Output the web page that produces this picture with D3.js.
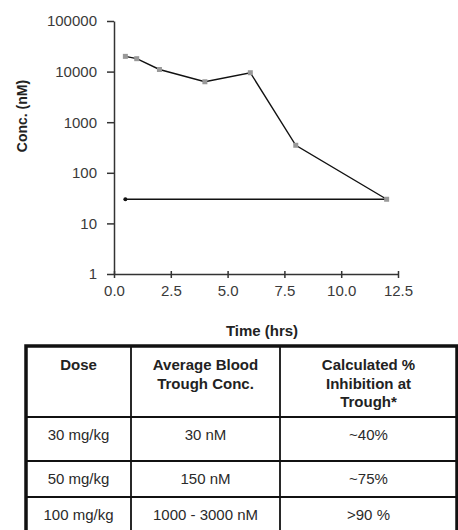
<!DOCTYPE html>
<html>
<head>
<meta charset="utf-8">
<script src="https://cdn.jsdelivr.net/npm/d3@7"></script>
<style>
  html, body { margin: 0; padding: 0; background: #fff; }
  svg { display: block; font-family: "Liberation Sans", Arial, sans-serif; }
</style>
</head>
<body>
<div id="chart"></div>
<script>
// PK curve (grey squares) and trough reference line
const times = [0.5, 1, 2, 4, 6, 8, 12];
const conc = [20000, 18000, 11000, 6300, 9500, 350, 30];
const troughTimes = [0.5, 12];
const troughConc = [30, 30];

const xTicks = [0, 2.5, 5, 7.5, 10, 12.5];
const yTicks = [1, 10, 100, 1000, 10000, 100000];

// table contents
const headers = [["Dose"], ["Average Blood", "Trough Conc."], ["Calculated %", "Inhibition at", "Trough*"]];
const doses = ["30 mg/kg", "50 mg/kg", "100 mg/kg"];
const bloodTrough = ["30 nM", "150 nM", "1000 - 3000 nM"];
const inhibition = ["~40%", "~75%", ">90 %"];

const width = 458;
const height = 530;

const svg = d3.select("#chart").append("svg")
  .attr("width", width)
  .attr("height", height);

const x = d3.scaleLinear().domain([0, 12.5]).range([114, 398]);
const y = d3.scaleLog().domain([1, 100000]).range([274, 21]);

const axisColor = "#333";
const labelColor = "#3a3a3a";

// y axis
const yAxis = svg.append("g")
  .attr("transform", `translate(${x(0)},0)`)
  .call(d3.axisLeft(y).tickValues(yTicks).tickFormat(d3.format("d")).tickSize(7).tickPadding(10).tickSizeOuter(0));
yAxis.select(".domain").attr("stroke", axisColor).attr("stroke-width", 1.5);
yAxis.selectAll(".tick line").attr("stroke", axisColor).attr("stroke-width", 1.5);
yAxis.selectAll(".tick text").attr("fill", labelColor).attr("font-size", 15).attr("font-family", null);

// x axis
const xAxis = svg.append("g")
  .attr("transform", `translate(0,${y(1)})`)
  .call(d3.axisBottom(x).tickValues(xTicks).tickFormat(d3.format(".1f")).tickSize(4).tickPadding(7).tickSizeOuter(0));
xAxis.select(".domain").attr("stroke", axisColor).attr("stroke-width", 1.5);
xAxis.selectAll(".tick line").attr("stroke", axisColor).attr("stroke-width", 1.5).attr("y1", -3);
xAxis.selectAll(".tick text").attr("fill", labelColor).attr("font-size", 15).attr("font-family", null);

// axis titles
svg.append("text")
  .attr("transform", `translate(27,116) rotate(-90)`)
  .attr("text-anchor", "middle")
  .attr("font-size", 14)
  .attr("font-weight", "bold")
  .attr("fill", "#222")
  .text("Conc. (nM)");

svg.append("text")
  .attr("x", 262)
  .attr("y", 336)
  .attr("text-anchor", "middle")
  .attr("font-size", 15)
  .attr("font-weight", "bold")
  .attr("fill", "#222")
  .text("Time (hrs)");

const line = d3.line()
  .x(d => x(d[0]))
  .y(d => y(d[1]));

// trough line
const troughPts = troughTimes.map((t, i) => [t, troughConc[i]]);
svg.append("path")
  .attr("d", line(troughPts))
  .attr("fill", "none")
  .attr("stroke", "#111")
  .attr("stroke-width", 1.4);
svg.append("circle")
  .attr("cx", x(troughTimes[0]))
  .attr("cy", y(troughConc[0]))
  .attr("r", 2)
  .attr("fill", "#111");

// PK curve
const pts = times.map((t, i) => [t, conc[i]]);
svg.append("path")
  .attr("d", line(pts))
  .attr("fill", "none")
  .attr("stroke", "#111")
  .attr("stroke-width", 1.4);

svg.append("g")
  .selectAll("rect")
  .data(pts)
  .join("rect")
  .attr("x", d => x(d[0]) - 2.5)
  .attr("y", d => y(d[1]) - 2.5)
  .attr("width", 5)
  .attr("height", 5)
  .attr("fill", "#999");

// table
const colEdges = [26, 131, 280, 457];
const rowEdges = [346, 417, 461, 497, 534];
const table = svg.append("g");

const cols = [doses, bloodTrough, inhibition];

// grid lines
rowEdges.slice(1, -1).forEach(ry => {
  table.append("line")
    .attr("x1", colEdges[0]).attr("x2", colEdges[3])
    .attr("y1", ry).attr("y2", ry)
    .attr("stroke", "#111").attr("stroke-width", 2);
});
colEdges.slice(1, -1).forEach(cx => {
  table.append("line")
    .attr("x1", cx).attr("x2", cx)
    .attr("y1", rowEdges[0]).attr("y2", rowEdges[4])
    .attr("stroke", "#111").attr("stroke-width", 1.8);
});
table.append("rect")
  .attr("x", colEdges[0])
  .attr("y", rowEdges[0])
  .attr("width", colEdges[3] - colEdges[0])
  .attr("height", rowEdges[4] - rowEdges[0])
  .attr("fill", "none")
  .attr("stroke", "#111")
  .attr("stroke-width", 3.5);

// header text
headers.forEach((lines, c) => {
  const cx = (colEdges[c] + colEdges[c + 1]) / 2;
  lines.forEach((t, j) => {
    table.append("text")
      .attr("x", cx)
      .attr("y", 365 + j * 18.5)
      .attr("dy", "0.35em")
      .attr("text-anchor", "middle")
      .attr("font-size", 15)
      .attr("font-weight", "bold")
      .attr("fill", "#222")
      .text(t);
  });
});

// body text
cols.forEach((vals, c) => {
  const cx = (colEdges[c] + colEdges[c + 1]) / 2;
  vals.forEach((t, r) => {
    table.append("text")
      .attr("x", cx)
      .attr("y", rowEdges[r + 1] + 18)
      .attr("dy", "0.35em")
      .attr("text-anchor", "middle")
      .attr("font-size", 15)
      .attr("fill", "#2a2a2a")
      .text(t);
  });
});
</script>
</body>
</html>
